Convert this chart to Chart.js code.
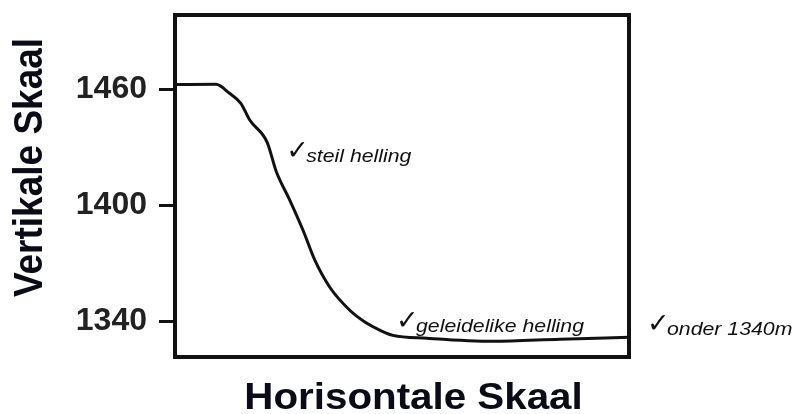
<!DOCTYPE html>
<html>
<head>
<meta charset="utf-8">
<script src="https://cdn.jsdelivr.net/npm/chart.js@4/dist/chart.umd.min.js"></script>
<style>
  html, body { margin: 0; padding: 0; background: #ffffff; }
  canvas { display: block; }
</style>
</head>
<body>
<canvas id="c" width="795" height="414"></canvas>
<script>
// ---- data ----
const horisontaal = [0, 9, 12, 14.5, 16.5, 20.3, 22.3, 25.3, 28.2, 30.8, 34.1, 38.5, 41.9, 45.2, 48, 55.5, 70, 84.8, 100];
const hoogte = [1462.5, 1462.6, 1458, 1452.8, 1444, 1432.6, 1417.5, 1402.6, 1387.1, 1371.6, 1357.6, 1345.7, 1339.5, 1335.3, 1332.7, 1331.2, 1329.6, 1330.7, 1331.7];
const yTicks = [1340, 1400, 1460];
const yTitle = 'Vertikale Skaal';
const xTitle = 'Horisontale Skaal';
const notas = ['steil helling', 'geleidelike helling', 'onder 1340m'];
const regmerk = '\u2713';

const STRETCH = 1.12;

const profielPlugin = {
  id: 'profiel',
  afterDraw(chart) {
    const { ctx, chartArea: a, scales: { x, y } } = chart;
    ctx.save();
    // frame
    ctx.strokeStyle = '#111';
    ctx.lineWidth = 4;
    ctx.strokeRect(a.left, a.top, a.right - a.left, a.bottom - a.top);

    // axis titles
    ctx.fillStyle = '#0b0b18';
    ctx.font = 'bold 37px "Liberation Sans", Arial, sans-serif';
    ctx.textAlign = 'center';
    ctx.textBaseline = 'alphabetic';
    ctx.save();
    ctx.translate(a.left - 133, (a.top + a.bottom) / 2 - 18.5);
    ctx.scale(STRETCH, 1);
    ctx.rotate(-Math.PI / 2);
    ctx.fillText(yTitle, 0, 0);
    ctx.restore();

    ctx.save();
    ctx.font = 'bold 36px "Liberation Sans", Arial, sans-serif';
    ctx.translate((a.left + a.right) / 2 + 11.5, a.bottom + 52);
    ctx.scale(STRETCH, 1);
    ctx.fillText(xTitle, 0, 0);
    ctx.restore();

    // annotations (anchored in data space / chart area)
    const anchors = [
      { px: x.getPixelForValue(24.7), v: 1422.2 },
      { px: x.getPixelForValue(48.9), v: 1334.3 },
      { px: a.right + 19, v: 1332.7 }
    ];
    ctx.textAlign = 'left';
    ctx.fillStyle = '#111';
    notas.forEach((t, i) => {
      const px = anchors[i].px;
      const py = y.getPixelForValue(anchors[i].v);
      ctx.save();
      ctx.font = '27px "DejaVu Sans", sans-serif';
      ctx.fillText(regmerk, px - 1, py - 3);
      ctx.restore();
      ctx.save();
      ctx.font = 'italic 19px "Liberation Sans", Arial, sans-serif';
      ctx.translate(px + 19, py);
      ctx.scale(STRETCH, 1);
      ctx.fillText(t, 0, 0);
      ctx.restore();
    });
    ctx.restore();
  }
};

new Chart(document.getElementById('c'), {
  type: 'line',
  data: {
    datasets: [{
      data: horisontaal.map((h, i) => ({ x: h, y: hoogte[i] })),
      borderColor: '#111',
      borderWidth: 3,
      pointRadius: 0,
      fill: false,
      cubicInterpolationMode: 'monotone'
    }]
  },
  options: {
    responsive: false,
    animation: false,
    events: [],
    layout: { padding: { top: 15, right: 166, left: 0, bottom: 0 } },
    plugins: { legend: { display: false }, tooltip: { enabled: false } },
    scales: {
      x: {
        type: 'linear',
        min: 0,
        max: 100,
        ticks: { display: false },
        grid: { display: false },
        border: { display: false },
        afterFit(s) { s.height = 57; }
      },
      y: {
        type: 'linear',
        min: 1321.5,
        max: 1498.5,
        afterBuildTicks(s) { s.ticks = yTicks.map(v => ({ value: v })); },
        ticks: {
          color: '#222',
          padding: 12,
          callback: v => String(v),
          font: { family: '"Liberation Sans", Arial, sans-serif', size: 32, weight: 'bold' }
        },
        grid: {
          display: true,
          drawOnChartArea: false,
          drawTicks: true,
          tickLength: 16,
          tickWidth: 3,
          lineWidth: 3,
          color: '#111',
          tickColor: '#111'
        },
        border: { display: false },
        afterFit(s) { s.width = 175; s.paddingTop = 0; s.paddingBottom = 0; }
      }
    }
  },
  plugins: [profielPlugin]
});
</script>
</body>
</html>
